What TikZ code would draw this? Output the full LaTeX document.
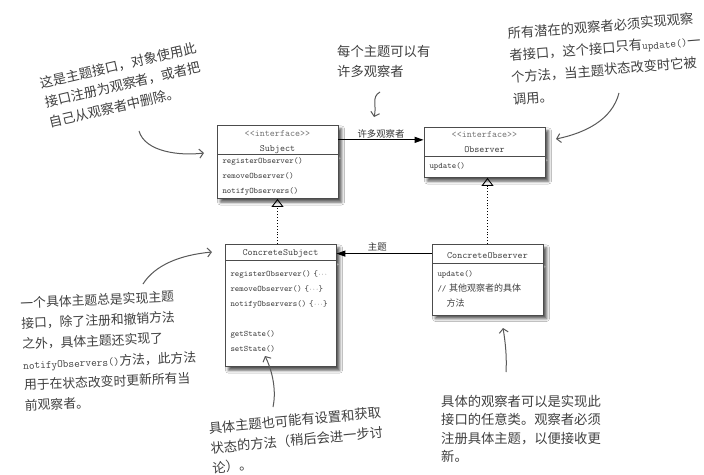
\documentclass[tikz,border=0pt]{standalone}
\usepackage{fontspec}
\usepackage{tikz}
\usetikzlibrary{shapes.multipart,arrows.meta,shadows.blur,calc}
\newfontfamily\cjk{Noto Sans CJK SC}
\newcommand\headfont{\fontsize{9.6}{11.5}\selectfont}
\newcommand\headline[1]{\makebox[\hsize]{#1}}
\newcommand\iface{{\color{black!55}<<interface>>}}
\newcommand\implfont{\fontsize{6}{6}\selectfont}
\newcommand\impl{\{{\implfont···}\}}
\newcommand\code[1]{{\ttfamily\fontsize{11}{11}\selectfont #1}}
\newcommand\boxcjk[1]{{\cjk\fontsize{9}{9}\selectfont #1}}

\tikzset{
  classbox/.style={rectangle split, rectangle split parts=2, draw=black!70, line width=0.8pt,
    fill=white, inner xsep=5.5pt, inner ysep=2.5pt, align=left, text=black!75,
    font=\ttfamily\fontsize{8.4}{15}\selectfont,
    blur shadow={shadow xshift=3.5pt, shadow yshift=-3.5pt, shadow blur radius=3pt, shadow opacity=70}},
  note/.style={font=\cjk\fontsize{13.3}{20}\selectfont, text=black!75, align=left, inner sep=0pt},
  assoc/.style={line width=1.1pt, -{Triangle[length=9pt,width=6pt]}},
  realize/.style={dotted, line width=0.9pt, -{Triangle[open,length=8pt,width=12pt,line width=0.9pt]}},
  hand/.style={draw=black!65, line width=1pt, -{Straight Barb[length=4pt,width=9pt]}},
  rolelabel/.style={font=\cjk\fontsize{9.4}{11}\selectfont, text=black!80, inner sep=1.5pt},
}

\begin{document}
\begin{tikzpicture}[x=1pt, y=-1pt]
  \useasboundingbox (0,0) rectangle (704,474);
  \fill[white] (0,0) rectangle (704,474);

  % classes
  \node[classbox, text width=110pt, anchor=north] (subject) at (277.5,125)
    {\headfont\headline{\rule{0pt}{8pt}\iface}\\\headline{\smash{Subject}\rule[-0.5pt]{0pt}{0pt}}
     \nodepart{two}\smash{registerObserver()}\rule{0pt}{6pt}\\removeObserver()\\
     \smash{notifyObservers()}\rule[-2pt]{0pt}{0pt}};
  \node[classbox, text width=110pt, anchor=north] (observer) at (484.5,127)
    {\headfont\headline{\rule{0pt}{7pt}\iface}\\\headline{Observer\rule[-1.5pt]{0pt}{0pt}}
     \nodepart{two}\rule{0pt}{8.5pt}update()\rule[-6.5pt]{0pt}{0pt}};
  \node[classbox, text width=100pt, anchor=north] (csubject) at (280.5,244)
    {\headfont\headline{\rule{0pt}{8.5pt}ConcreteSubject}
     \nodepart{two}\rule{0pt}{13pt}registerObserver()~\{{\implfont···}\\
     removeObserver()~\impl\\notifyObservers()~\impl\\\mbox{}\\getState()\\
     setState()\rule[-12pt]{0pt}{0pt}};
  \node[classbox, text width=100pt, anchor=north] (cobserver) at (487.5,244)
    {\headfont\headline{\rule{0pt}{11pt}ConcreteObserver\rule[-2pt]{0pt}{0pt}}
     \nodepart{two}\rule{0pt}{10pt}update()\\//~\boxcjk{其他观察者的具体}\\
     \hspace*{9pt}\boxcjk{方法}\rule[-6pt]{0pt}{0pt}};

  % relations
  \coordinate (subjhead) at ($(subject.north east)!0.5!(subject.text split east)$);
  \draw[assoc] (subjhead) -- (subjhead -| observer.west)
    node[rolelabel, midway, above] (manylabel) {许多观察者};
  \coordinate (cobshead) at ($(cobserver.north west)!0.5!(cobserver.text split west)$);
  \draw[assoc] (cobshead) -- (cobshead -| csubject.east)
    node[rolelabel, pos=0.57, above] (subjlabel) {主题};
  \draw[realize] (subject.south |- csubject.north) -- (subject.south);
  \draw[realize] (cobserver.north) -- (cobserver.north |- observer.south);

  % notes
  \node[note, rotate=13, anchor=north west] (regnote) at (39,77)
    {这是主题接口，对象使用此\\接口注册为观察者，或者把\\自己从观察者中删除。};
  \node[note, anchor=north west] (manynote) at (337,45)
    {每个主题可以有\\许多观察者};
  \node[note, font=\cjk\fontsize{13.3}{22}\selectfont, rotate=4.5, anchor=north west] (updnote) at (507,27)
    {所有潜在的观察者必须实现观察\\者接口，这个接口只有\code{update()}一\\个方法，当主题状态改变时它被\\调用。};
  \node[note, font=\cjk\fontsize{12.8}{20.5}\selectfont, rotate=2.5, anchor=north west] (csubnote) at (20,297)
    {一个具体主题总是实现主题\\接口，除了注册和撤销方法\\之外，具体主题还实现了\\\code{notifyObservers()}方法，此方法\\用于在状态改变时更新所有当\\前观察者。};
  \node[note, rotate=5.3, anchor=north west] (statenote) at (208,422)
    {具体主题也可能有设置和获取\\状态的方法（稍后会进一步讨\\论）。};
  \node[note, font=\cjk\fontsize{13.3}{18.5}\selectfont, anchor=north west] (cobsnote) at (441,395)
    {具体的观察者可以是实现此\\接口的任意类。观察者必须\\注册具体主题，以便接收更\\新。};

  % hand arrows
  \coordinate (regtail) at (139,131);   \coordinate (regtip) at (204,153);
  \coordinate (manytail) at (380,92);   \coordinate (manytip) at (374,117);
  \coordinate (updtail) at (619,93);    \coordinate (updtip) at (556,139);
  \coordinate (csubtail) at (143,284);  \coordinate (csubtip) at (212,252);
  \coordinate (statetail) at (273,407); \coordinate (statetip) at (265,356);
  \coordinate (cobstail) at (506,372);  \coordinate (cobstip) at (503,328);
  \draw[hand] (regtail) .. controls (145,152) and (180,156) .. (regtip);
  \draw[hand] (manytail) .. controls (371,97) and (377,106) .. (manytip);
  \draw[hand] (updtail) .. controls (612,120) and (585,133) .. (updtip);
  \draw[hand] (csubtail) .. controls (155,265) and (180,255) .. (csubtip);
  \draw[hand] (statetail) .. controls (277,388) and (271,368) .. (statetip);
  \draw[hand] (cobstail) .. controls (507,355) and (505,340) .. (cobstip);
\end{tikzpicture}
\end{document}
